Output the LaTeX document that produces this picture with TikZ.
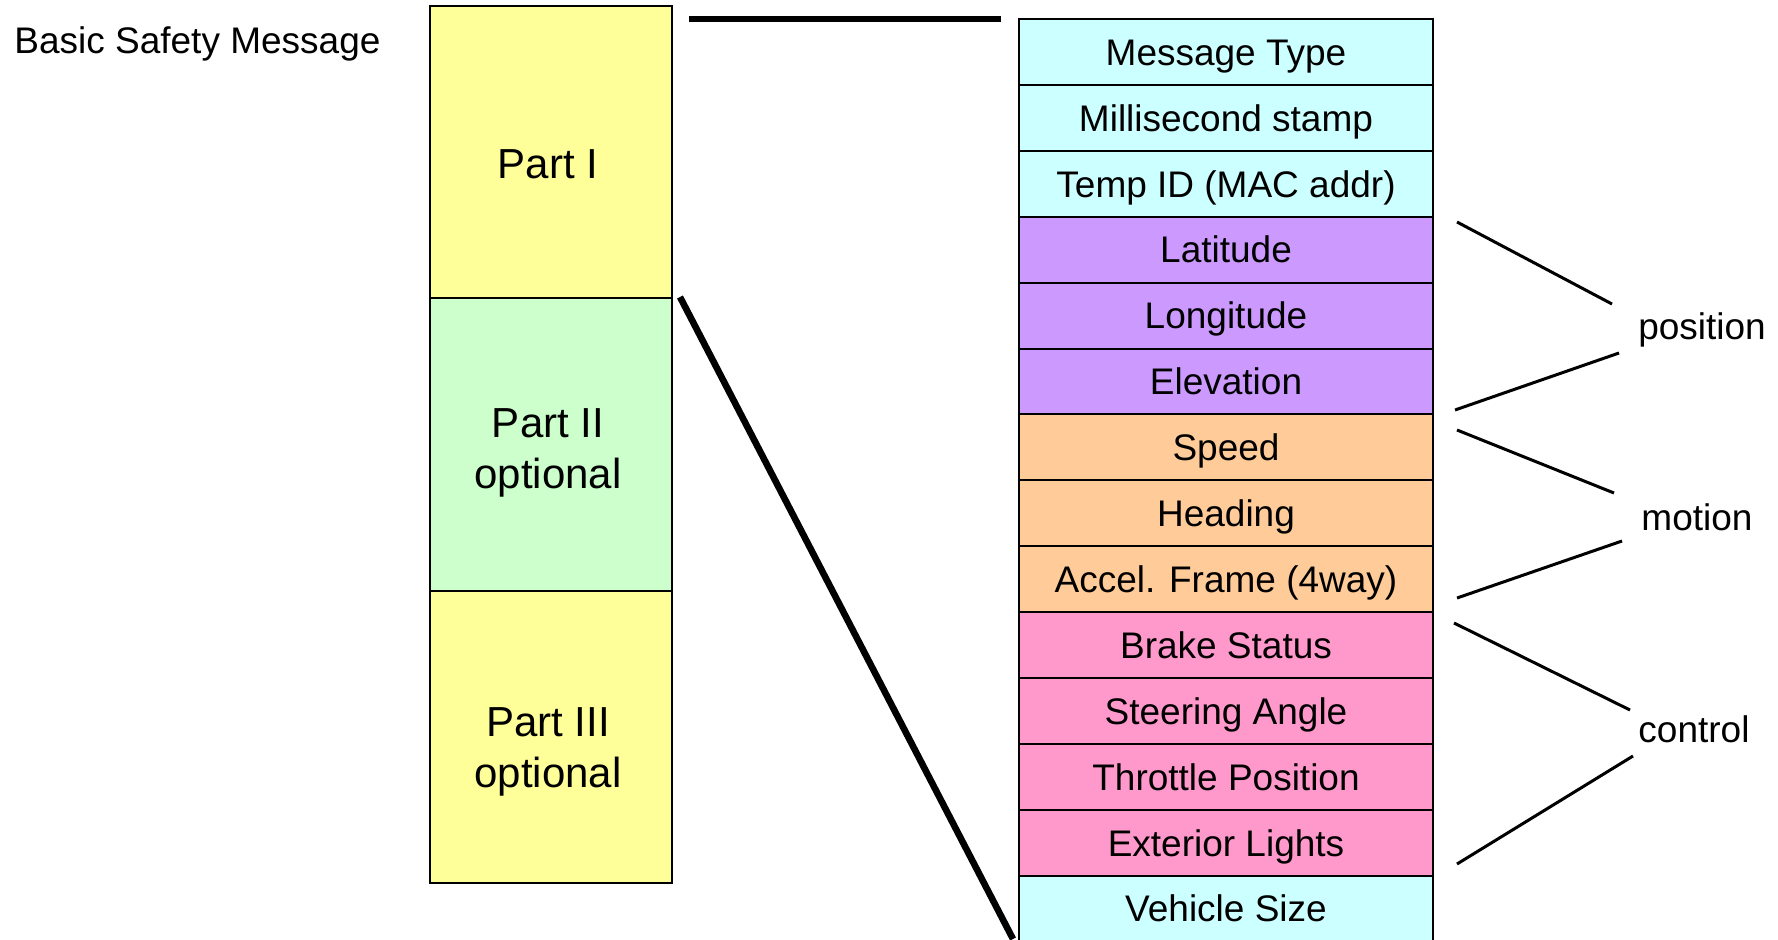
\documentclass[tikz,border=0pt]{standalone}
\usepackage{fontspec}
\setmainfont{Liberation Sans}
\definecolor{partyellow}{HTML}{FFFF99}
\definecolor{partgreen}{HTML}{CCFFCC}
\definecolor{fcyan}{HTML}{CCFFFF}
\definecolor{fpurple}{HTML}{CC99FF}
\definecolor{forange}{HTML}{FFCC99}
\definecolor{fpink}{HTML}{FF99CC}
\begin{document}
\begin{tikzpicture}[x=0.5pt,y=-0.5pt,
  field/.style={draw=black, line width=1pt, minimum width=207pt, minimum height=32.95pt,
    inner sep=0pt, text height=13.25pt, text depth=0pt, font=\fontsize{18.5}{22}\selectfont},
  partbox/.style={draw=black, line width=1pt, minimum width=121pt, minimum height=146.3pt,
    inner sep=0pt},
  parttext/.style={font=\fontsize{21}{25.5}\selectfont, align=center},
  zoomline/.style={line width=3.3pt},
  groupline/.style={line width=1.5pt},
  grouplabel/.style={font=\fontsize{18.5}{22}\selectfont, inner sep=0pt}]
\useasboundingbox (0,0) rectangle (1778,939);
\clip (0,0) rectangle (1778,939);

% title
\node[anchor=west, inner sep=0pt, font=\fontsize{18.5}{22}\selectfont] (title) at (14,43.5) {Basic Safety Message};

% message parts
\node[partbox, fill=partyellow] (p1) at (551,152) {};
\node[partbox, fill=partgreen]  (p2) at (551,444.5) {};
\node[partbox, fill=partyellow] (p3) at (551,737) {};
\node[parttext] (t1) at (548,164) {Part I};
\node[parttext] (t2) at (548,453) {Part II\\optional};
\node[parttext] (t3) at (548,752) {Part III\\optional};

% Part I fields
\foreach \i/\txt/\col in {1/Message Type/fcyan, 2/Millisecond stamp/fcyan, 3/Temp ID (MAC addr)/fcyan,
    4/Latitude/fpurple, 5/Longitude/fpurple, 6/Elevation/fpurple,
    7/Speed/forange, 8/Heading/forange, 9/Accel. Frame (4way)/forange,
    10/Brake Status/fpink, 11/Steering Angle/fpink, 12/Throttle Position/fpink, 13/Exterior Lights/fpink,
    14/Vehicle Size/fcyan}
  \node[field, fill=\col] (r\i) at (1226,{19+65.9*(\i-0.5)}) {\txt};

% expansion lines from Part I to its fields
\coordinate (za) at (689,19);
\coordinate (zb) at (1001,19);
\coordinate (zc) at (680,297);
\coordinate (zd) at (1013,939);
\draw[zoomline] (za) -- (zb);
\draw[zoomline] (zc) -- (zd);

% group labels
\node[grouplabel] (gpos) at (1702,329.5) {position};
\node[grouplabel] (gmot) at (1697,517) {motion};
\node[grouplabel] (gctl) at (1694,729) {control};

\coordinate (a1) at (1457,222); \coordinate (b1) at (1612,304);
\coordinate (a2) at (1455,410); \coordinate (b2) at (1619,353);
\coordinate (a3) at (1457,430); \coordinate (b3) at (1614,493);
\coordinate (a4) at (1457,598); \coordinate (b4) at (1622,541);
\coordinate (a5) at (1454,623); \coordinate (b5) at (1630,710);
\coordinate (a6) at (1457,864); \coordinate (b6) at (1633,756);
\draw[groupline] (a1) -- (b1);
\draw[groupline] (a2) -- (b2);
\draw[groupline] (a3) -- (b3);
\draw[groupline] (a4) -- (b4);
\draw[groupline] (a5) -- (b5);
\draw[groupline] (a6) -- (b6);
\end{tikzpicture}
\end{document}
